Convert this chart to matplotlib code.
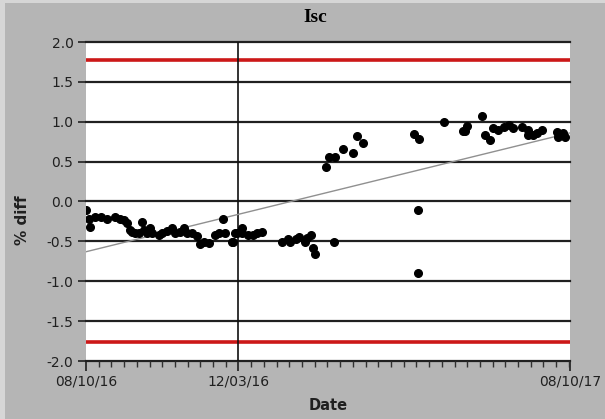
import datetime as dt

import matplotlib
matplotlib.use("Agg")
import matplotlib.pyplot as plt
import matplotlib.dates as mdates
import numpy as np
from matplotlib.patches import Rectangle

# measurement days, counted from the start date
start_date = dt.date(2016, 8, 10)
end_date = dt.date(2017, 8, 10)
marker_date = dt.date(2016, 12, 3)

day_offsets = [
    0, 2, 3, 7, 11, 16, 22, 26, 29, 31, 33, 35, 37, 40, 42, 44, 46, 48, 50,
    55, 57, 61, 65, 67, 71, 74, 76, 80, 84, 86, 89, 93, 97, 100, 103, 105,
    110, 111, 112, 114, 118, 118, 122, 126, 129, 133,
    148, 152, 154, 158, 161, 165, 167, 170, 171, 173, 187,
    181, 183, 188, 194, 201, 204, 209,
    247, 251, 250, 250,
    270, 284, 286, 287, 299, 301, 305, 307, 311, 315, 319, 322, 329, 333,
    333, 337, 340, 344, 355, 356, 360, 361,
]
pct_diff = [
    -0.11, -0.22, -0.32, -0.19, -0.19, -0.22, -0.19, -0.22, -0.23, -0.27,
    -0.36, -0.38, -0.40, -0.40, -0.26, -0.36, -0.40, -0.33, -0.40,
    -0.42, -0.40, -0.37, -0.33, -0.40, -0.38, -0.33, -0.40, -0.40, -0.43,
    -0.53, -0.51, -0.52, -0.42, -0.40, -0.22, -0.40,
    -0.51, -0.51, -0.40, -0.40, -0.33, -0.40, -0.42, -0.42, -0.40, -0.38,
    -0.51, -0.47, -0.51, -0.47, -0.45, -0.51, -0.46, -0.42, -0.58, -0.66,
    -0.51,
    0.43, 0.56, 0.56, 0.66, 0.61, 0.82, 0.73,
    0.85, 0.78, -0.11, -0.90,
    1.00, 0.88, 0.88, 0.95, 1.07, 0.83, 0.77, 0.92, 0.90, 0.93, 0.96, 0.92,
    0.93, 0.90, 0.83, 0.83, 0.86, 0.90, 0.87, 0.81, 0.86, 0.81,
]

# trend line end values and limit lines
trend_ends = [-0.63, 0.86]
limit_values = [1.78, -1.76]
y_ticks = [-2.0, -1.5, -1.0, -0.5, 0.0, 0.5, 1.0, 1.5, 2.0]
x_tick_dates = [start_date, marker_date, end_date]

dates = [start_date + dt.timedelta(days=d) for d in day_offsets]

fig = plt.figure(figsize=(6.05, 4.19), dpi=100)
fig.patch.set_facecolor("#b5b5b5")
# window frame strips
fig.patches.append(Rectangle((0, 1 - 3 / 419), 1, 3 / 419, transform=fig.transFigure,
                             facecolor="#d6d6d6", edgecolor="none"))
fig.patches.append(Rectangle((0, 0), 5 / 605, 1, transform=fig.transFigure,
                             facecolor="#d6d6d6", edgecolor="none"))

ax = fig.add_axes([86 / 605, 1 - 361 / 419, 484 / 605, 319 / 419])
ax.set_facecolor("white")
for s in ax.spines.values():
    s.set_visible(False)

x0 = mdates.date2num(start_date)
x1 = mdates.date2num(end_date)
xm = mdates.date2num(marker_date)

for yv in y_ticks:
    ax.axhline(yv, color="#202020", lw=1.6, zorder=1, clip_on=False)
for lv in limit_values:
    ax.axhline(lv, color="#cc1818", lw=2.6, zorder=2)
ax.axvline(xm, color="#101010", lw=1.2, zorder=2)

ax.plot([x0, x1], trend_ends, color="#909090", lw=1.0, zorder=3)
ax.plot(mdates.date2num(dates), pct_diff, "o", color="black", ms=5.5,
        mec="black", zorder=4)

ax.set_xlim(x0, x1)
ax.set_ylim(-2.0, 2.0)
ax.set_yticks(y_ticks)
ax.set_yticklabels([f"{v:.1f}" for v in y_ticks])
ax.set_xticks([mdates.date2num(d) for d in x_tick_dates])
ax.xaxis.set_major_formatter(mdates.DateFormatter("%m/%d/%y"))
ax.set_xticks(np.arange(x0, x1 + 0.1, (xm - x0) / 12), minor=True)

ax.tick_params(axis="y", length=6, width=1.2, pad=3, colors="#202020",
               labelsize=10)
ax.tick_params(axis="x", which="major", length=7, width=1.2, pad=3,
               colors="#202020", labelsize=10)
ax.tick_params(axis="x", which="minor", length=4, width=1.0, colors="#303030")

fig.text(315 / 605, 1 - 18 / 419, "Isc", ha="center", va="center",
         fontsize=14, fontweight="bold", family="Liberation Serif")
fig.text(23 / 605, 1 - 220 / 419, "% diff", ha="center", va="center",
         rotation=90, fontsize=11, fontweight="bold", color="#202020")
fig.text(328 / 605, 1 - 405 / 419, "Date", ha="center", va="center",
         fontsize=10.5, fontweight="bold", color="#202020")

fig.savefig("out.png", dpi=100, facecolor=fig.get_facecolor())
